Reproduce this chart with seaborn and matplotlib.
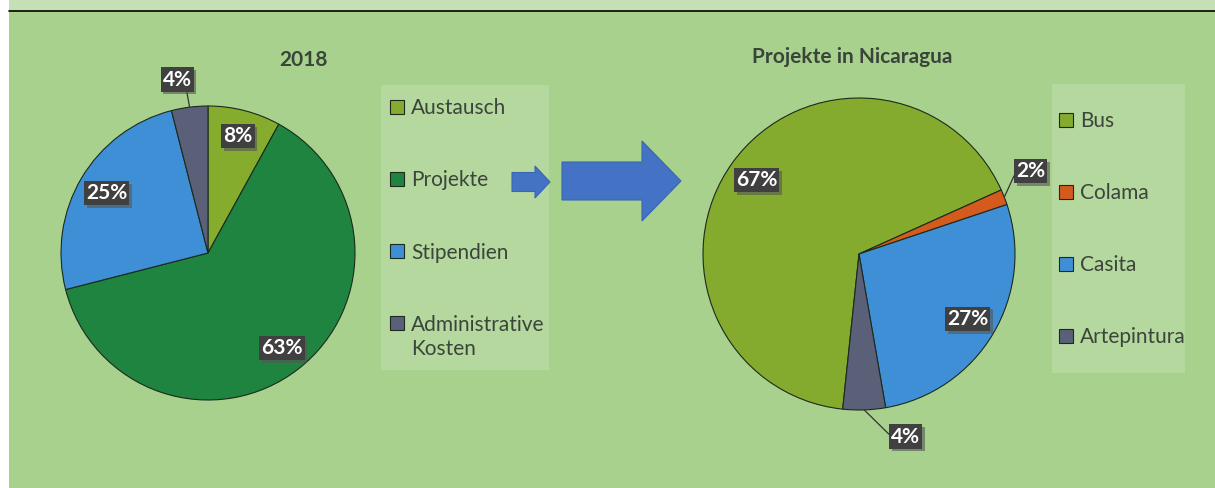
import numpy as np
import matplotlib
matplotlib.use("Agg")
import matplotlib.pyplot as plt
import seaborn as sns
from matplotlib.patches import Rectangle, FancyArrow
import matplotlib.patheffects as pe

# ---------------- data ----------------
left_title = "2018"
left_categories = ["Austausch", "Projekte", "Stipendien", "Administrative\nKosten"]
left_values = [8, 63, 25, 4]
left_labels = ["8%", "63%", "25%", "4%"]

right_title = "Projekte in Nicaragua"
right_categories = ["Bus", "Colama", "Casita", "Artepintura"]
right_values = [66.6, 1.6, 27.4, 4.4]
right_labels = ["67%", "2%", "27%", "4%"]

left_colors = sns.color_palette(["#86ac2e", "#1f843f", "#3f8fd6", "#5b6079"])
right_colors = sns.color_palette(["#84ab2e", "#d45b1d", "#3f8fd6", "#5b6079"])

# ---------------- style ----------------
sns.set_theme(style="white")
plt.rcParams["font.family"] = ["Lato", "DejaVu Sans"]

W, H = 1215, 488
fig = plt.figure(figsize=(W / 100, H / 100), dpi=100, facecolor="white")

BG = "#a9d18e"
TOP = "#c5e0b4"
LEG_BG = "#b5d89e"
TXT = "#3b453b"
ARROW = "#4472c4"
FS_LEG = 15

bg = fig.add_axes([0, 0, 1, 1])
bg.set_xlim(0, W)
bg.set_ylim(H, 0)
bg.axis("off")
bg.add_patch(Rectangle((9, 0), W - 9, 11, color=TOP, lw=0))
bg.add_patch(Rectangle((9, 11), W - 9, H - 11, color=BG, lw=0))
bg.plot([9, W], [11, 11], color="black", lw=1.2)

# legend panels
bg.add_patch(Rectangle((381, 85), 168, 285, color=LEG_BG, lw=0))
bg.add_patch(Rectangle((1052, 84), 133, 289, color=LEG_BG, lw=0))

# arrows
bg.add_patch(FancyArrow(512, 182, 38, 0, width=19, head_width=32, head_length=15,
                        length_includes_head=True, facecolor=ARROW, edgecolor="#3a66b5", lw=0.8))
bg.add_patch(FancyArrow(562, 181, 119, 0, width=38, head_width=80, head_length=39,
                        length_includes_head=True, facecolor=ARROW, edgecolor="#3a66b5", lw=0.8))


def pie_axes(cx, cy, r):
    return fig.add_axes([(cx - r) / W, (H - cy - r) / H, 2 * r / W, 2 * r / H])


def draw_pie(ax, values, colors, start):
    wedges, _ = ax.pie(values, colors=colors, startangle=start, counterclock=False,
                       wedgeprops=dict(edgecolor="#1c2a1c", linewidth=0.8))
    ax.set_xlim(-1, 1)
    ax.set_ylim(-1, 1)
    ax.set_aspect("equal")
    ax.axis("off")
    return wedges


def box_label(ax, text, xy, xytext=None, relpos=(0.5, 0.5)):
    kw = dict(ha="center", va="center", color="white", fontsize=15, fontweight="bold",
              bbox=dict(boxstyle="square,pad=0.1", facecolor="#404040", edgecolor="none"),
              annotation_clip=False, zorder=5)
    if xytext is None:
        t = ax.annotate(text, xy=xy, **kw)
    else:
        t = ax.annotate(text, xy=xy, xytext=xytext,
                        arrowprops=dict(arrowstyle="-", color="#333333", lw=0.9,
                                        shrinkA=0, shrinkB=0, relpos=relpos), **kw)
    t.get_bbox_patch().set_path_effects([
        pe.SimplePatchShadow(offset=(2, -2), shadow_rgbFace="#555555", alpha=0.6),
        pe.Normal()])
    return t


def mid(w, r):
    a = np.deg2rad((w.theta1 + w.theta2) / 2)
    return (r * np.cos(a), r * np.sin(a))


def legend(ax, wedges, cats, x, yc):
    first_lines = [c.split("\n")[0] for c in cats]
    leg = ax.legend(wedges, first_lines, loc="center left",
                    bbox_to_anchor=(x / W, 1 - yc / H), bbox_transform=fig.transFigure,
                    frameon=False, fontsize=FS_LEG, labelspacing=2.5, handlelength=0.66,
                    handleheight=0.66, handletextpad=0.36, borderpad=0, borderaxespad=0)
    leg.set_zorder(5)
    for t, c in zip(leg.get_texts(), cats):
        t.set_color(TXT)
        rest = c.split("\n")[1:]
        for k, line in enumerate(rest):
            ax.annotate(line, xy=(0, 0), xycoords=t, xytext=(0, -17.5 * (k + 1)),
                        textcoords="offset points", ha="left", va="bottom",
                        fontsize=FS_LEG, color=TXT, annotation_clip=False, zorder=10)
    return leg


# ---------------- left pie ----------------
axL = pie_axes(208, 253, 147)
wl = draw_pie(axL, left_values, left_colors, 90)
for i, (w, lab) in enumerate(zip(wl, left_labels)):
    if i == 3:
        box_label(axL, lab, mid(w, 1.0), xytext=(-0.21, 1.18), relpos=(0.82, 0.0))
    elif i == 2:
        box_label(axL, lab, mid(w, 0.80))
    else:
        box_label(axL, lab, mid(w, 0.82))

fig.text(303 / W, 1 - 60 / H, left_title, ha="center", va="center",
         fontsize=15, fontweight="bold", color="#3a453a")
legend(axL, wl, left_categories, 390, 216.5)

# ---------------- right pie ----------------
axR = pie_axes(859, 254, 156)
wr = draw_pie(axR, right_values, right_colors, -96)
for i, (w, lab) in enumerate(zip(wr, right_labels)):
    if i == 1:
        box_label(axR, lab, mid(w, 1.0), xytext=(1.10, 0.53), relpos=(0.0, 0.5))
    elif i == 3:
        box_label(axR, lab, mid(w, 1.0), xytext=(0.30, -1.17), relpos=(0.0, 0.5))
    else:
        box_label(axR, lab, mid(w, 0.81))

fig.text(852 / W, 1 - 57 / H, right_title, ha="center", va="center",
         fontsize=15, fontweight="bold", color="#3a453a")
legend(axR, wr, right_categories, 1059, 229)

fig.savefig("out.png", dpi=100, facecolor=fig.get_facecolor())
